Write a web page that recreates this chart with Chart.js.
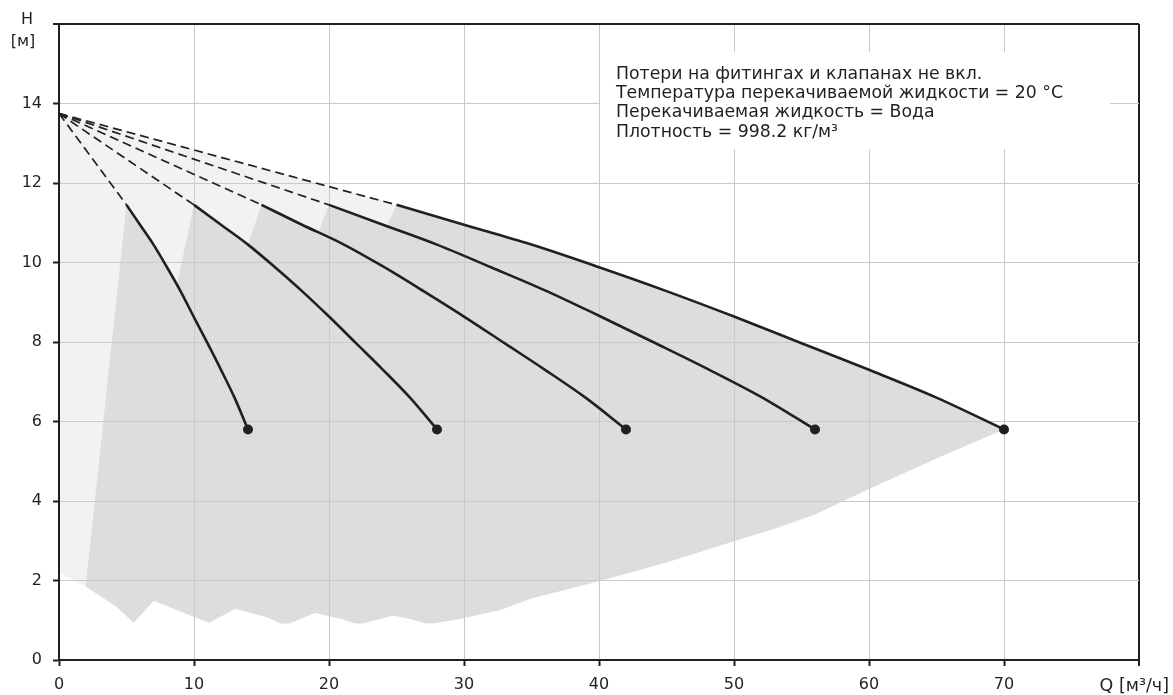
<!DOCTYPE html>
<html lang="ru">
<head>
<meta charset="utf-8">
<title>Q-H</title>
<script src="https://cdn.jsdelivr.net/npm/chart.js@4.4.1/dist/chart.umd.min.js"></script>
<style>
  html, body { margin: 0; padding: 0; background: #fff; }
  #wrap { width: 1173px; height: 695px; }
</style>
</head>
<body>
<div id="wrap"><canvas id="qhChart" width="1173" height="695"></canvas></div>
<script>
// Общая точка нулевой подачи (Q, H)
const startPoint = [0, 13.75];

// Рабочие кривые насосов (Q м³/ч, H м)
const curve1 = [[5, 11.45], [6, 10.95], [7, 10.45], [8, 9.88], [9, 9.28], [10, 8.62], [11, 7.97], [12, 7.3], [13, 6.6], [14, 5.8]];
const curve2 = [[10, 11.45], [12, 10.95], [14, 10.45], [16, 9.88], [18, 9.28], [20, 8.64], [22, 7.97], [24, 7.3], [26, 6.6], [28, 5.8]];
const curve3 = [[15, 11.45], [18, 10.95], [21, 10.47], [24, 9.9], [27, 9.28], [30, 8.64], [33, 7.97], [36, 7.3], [39, 6.6], [42, 5.8]];
const curve4 = [[20, 11.45], [24, 10.95], [28, 10.45], [32, 9.88], [36, 9.3], [40, 8.66], [44, 8.0], [48, 7.33], [52, 6.62], [56, 5.8]];
const curve5 = [[25, 11.45], [30, 10.95], [35, 10.45], [40, 9.88], [45, 9.28], [50, 8.64], [55, 7.97], [60, 7.3], [65, 6.6], [70, 5.8]];

// Рабочая область (тёмная заливка)
const darkTop = [[1.98, 1.85], [5, 11.45], [6, 10.95], [7, 10.45], [8, 9.88], [8.75, 9.45], [10, 11.45], [12, 10.95], [14, 10.45],
  [15, 11.45], [18, 10.95], [19.2, 10.75], [20, 11.45], [24, 10.95], [24.3, 10.92], [25, 11.45], [30, 10.95], [35, 10.45],
  [40, 9.88], [45, 9.28], [50, 8.64], [55, 7.97], [60, 7.3], [65, 6.6], [70, 5.8]];
const darkBottom = [[1.98, 1.85], [4.25, 1.34], [5.53, 0.94], [7.02, 1.49], [9.44, 1.16], [11.12, 0.94], [13.05, 1.28],
  [15.37, 1.08], [16.43, 0.92], [17.1, 0.92], [18.95, 1.18], [20.93, 1.03], [21.92, 0.92], [22.5, 0.92], [24.76, 1.12],
  [26.0, 1.03], [27.23, 0.92], [27.7, 0.92], [29.7, 1.03], [32.67, 1.26], [35, 1.55], [40, 1.98], [45, 2.45], [50, 2.99],
  [53, 3.3], [56, 3.66], [60, 4.3], [65, 5.07], [70, 5.8]];

// Светлая область под пунктиром
const lightTop = [[0, 13.75], [25, 11.45]];
const lightBottom = [[0, 2.18], [1.98, 1.85], [4.25, 1.5], [25, 1.5]];

const noteLines = [
  'Потери на фитингах и клапанах не вкл.',
  'Температура перекачиваемой жидкости = 20 °C',
  'Перекачиваемая жидкость = Вода',
  'Плотность = 998.2 кг/м³'
];

const INK = '#231f20';
const GRID = '#c9cacc';
const FONT = '"DejaVu Sans", Verdana, sans-serif';

const toPts = arr => arr.map(([x, y]) => ({ x, y }));
const curves = [curve1, curve2, curve3, curve4, curve5];

const datasets = [];
// 0-4: сплошные кривые
curves.forEach(c => datasets.push({
  data: toPts(c), borderColor: INK, borderWidth: 2.6, pointRadius: 0,
  cubicInterpolationMode: 'monotone', fill: false, order: 1
}));
// 5-9: пунктир от нулевой подачи
curves.forEach(c => datasets.push({
  data: toPts([startPoint, c[0]]), borderColor: INK, borderWidth: 1.7, borderDash: [9, 5],
  pointRadius: 0, fill: false, order: 2
}));
// 10: конечные точки
datasets.push({
  data: toPts(curves.map(c => c[c.length - 1])), showLine: false, pointRadius: 5,
  pointBackgroundColor: INK, pointBorderWidth: 0, order: 0
});
// 11-12: тёмная область, 13-14: светлая
datasets.push({ data: toPts(darkTop), borderColor: 'transparent', borderWidth: 0, pointRadius: 0, backgroundColor: '#dcdddf', fill: 12, order: 5 });
datasets.push({ data: toPts(darkBottom), borderColor: 'transparent', borderWidth: 0, pointRadius: 0, fill: false, order: 6 });
datasets.push({ data: toPts(lightTop), borderColor: 'transparent', borderWidth: 0, pointRadius: 0, backgroundColor: '#f1f2f4', fill: 14, order: 7 });
datasets.push({ data: toPts(lightBottom), borderColor: 'transparent', borderWidth: 0, pointRadius: 0, fill: false, order: 8 });

// Подписи осей и блок с примечаниями
const labelsPlugin = {
  id: 'labels',
  beforeDatasetsDraw(chart) {
    const ctx = chart.ctx;
    ctx.save();
    ctx.fillStyle = '#fff';
    ctx.fillRect(600, 52, 510, 97);
    ctx.fillStyle = INK;
    ctx.font = '17.3px ' + FONT;
    ctx.textAlign = 'left';
    ctx.textBaseline = 'alphabetic';
    noteLines.forEach((t, i) => ctx.fillText(t, 616, 79 + i * 19.2));
    ctx.restore();
  },
  afterDraw(chart) {
    const ctx = chart.ctx;
    ctx.save();
    ctx.fillStyle = INK;
    ctx.font = '16px ' + FONT;
    ctx.textBaseline = 'alphabetic';
    ctx.textAlign = 'center';
    ctx.fillText('H', 27, 24);
    ctx.fillText('[м]', 23, 45.5);
    ctx.font = '17.5px ' + FONT;
    ctx.textAlign = 'right';
    ctx.fillText('Q [м³/ч]', 1169, 691);
    ctx.restore();
  }
};

new Chart(document.getElementById('qhChart'), {
  type: 'line',
  data: { datasets },
  options: {
    responsive: false,
    animation: false,
    events: [],
    layout: { padding: { left: 0, top: 24, right: 34, bottom: 0 } },
    plugins: {
      legend: { display: false },
      tooltip: { enabled: false },
      filler: { drawTime: 'beforeDraw' }
    },
    scales: {
      x: {
        type: 'linear', min: 0, max: 80,
        afterFit: s => { s.height = 35; },
        ticks: {
          stepSize: 10, color: INK, font: { family: FONT, size: 16 }, padding: 9,
          maxRotation: 0, autoSkip: false,
          callback: v => (v === 80 ? '' : v)
        },
        grid: {
          color: c => (c.tick && c.tick.value === 80 ? INK : GRID),
          lineWidth: c => (c.tick && c.tick.value === 80 ? 2 : 1),
          tickColor: INK, tickLength: 6, tickWidth: 2
        },
        border: { color: INK, width: 2 }
      },
      y: {
        type: 'linear', min: 0, max: 16,
        afterFit: s => { s.width = 59; },
        ticks: {
          stepSize: 2, color: INK, font: { family: FONT, size: 16 }, padding: 11,
          callback: v => (v === 16 ? '' : v)
        },
        grid: {
          color: c => (c.tick && c.tick.value === 16 ? INK : GRID),
          lineWidth: c => (c.tick && c.tick.value === 16 ? 2 : 1),
          tickColor: INK, tickLength: 6, tickWidth: 2
        },
        border: { color: INK, width: 2 }
      }
    }
  },
  plugins: [labelsPlugin]
});
</script>
</body>
</html>
